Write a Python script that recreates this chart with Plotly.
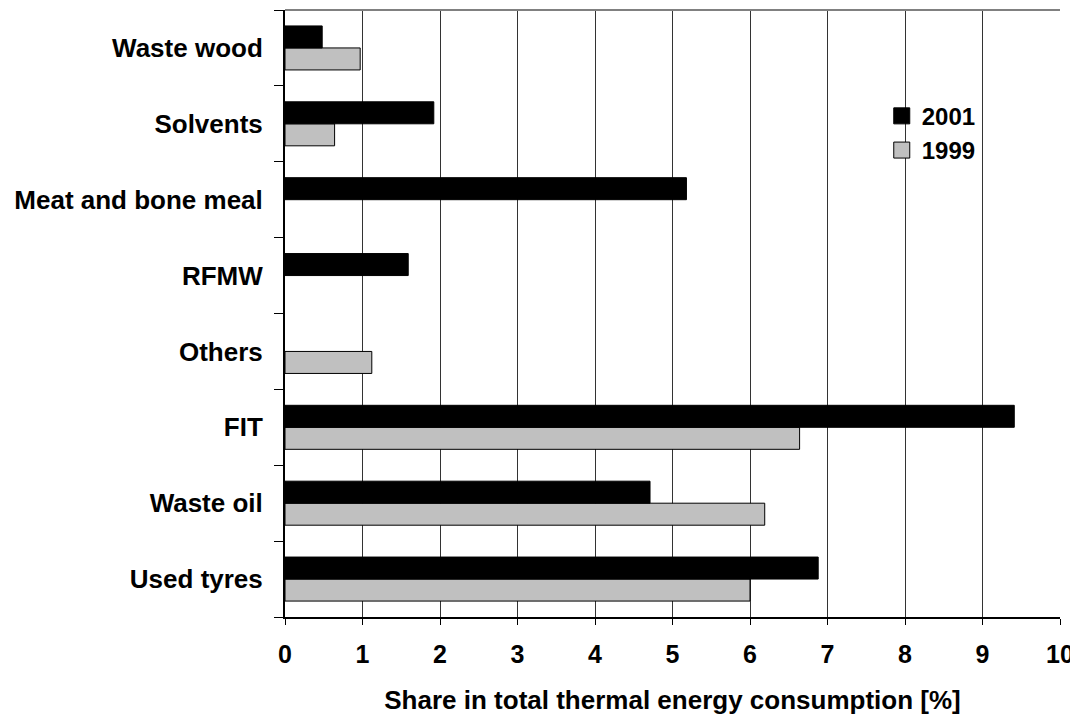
import plotly.graph_objects as go

FONT = 'Liberation Sans, Arial, sans-serif'

# bottom to top, as on the chart
categories = ['Used tyres', 'Waste oil', 'FIT', 'Others', 'RFMW',
              'Meat and bone meal', 'Solvents', 'Waste wood']
share_2001 = [6.88, 4.71, 9.41, None, 1.59, 5.18, 1.92, 0.48]
share_1999 = [6.0, 6.19, 6.64, 1.12, None, None, 0.64, 0.97]
x_ticks = list(range(0, 11))

fig = go.Figure()
# 1999 first so it sits below the 2001 bar in each group
fig.add_trace(go.Bar(
    y=categories, x=share_1999, orientation='h', name='1999',
    marker=dict(color='#c0c0c0', line=dict(color='#000000', width=1)),
    showlegend=False
))
fig.add_trace(go.Bar(
    y=categories, x=share_2001, orientation='h', name='2001',
    marker=dict(color='#000000', line=dict(color='#000000', width=1)),
    showlegend=False
))
# legend entries with bigger square swatches
for name, color in [('1999', '#c0c0c0'), ('2001', '#000000')]:
    fig.add_trace(go.Scatter(
        x=[None], y=[None], mode='markers', name=name,
        marker=dict(symbol='square', size=16, color=color,
                    line=dict(color='#000000', width=1))
    ))

# the page body adds an 8px margin, so the figure is 8px smaller each way
fig.update_layout(
    width=1070, height=707,
    margin=dict(l=277, r=18, t=2, b=98, autoexpand=False),
    paper_bgcolor='white',
    plot_bgcolor='white',
    barmode='group',
    bargap=0.42,
    bargroupgap=0,
    font=dict(family=FONT, size=25, color='#000000'),
    legend=dict(
        x=0.77, y=0.862, xanchor='left', yanchor='top',
        traceorder='reversed',
        font=dict(family=FONT, size=24, color='#000000', weight='bold'),
        bgcolor='rgba(0,0,0,0)',
        itemwidth=30,
        tracegroupgap=0
    ),
    shapes=[dict(type='line', xref='paper', yref='paper', x0=0, x1=1, y0=1, y1=1,
                 line=dict(color='#808080', width=2))]
)
fig.update_xaxes(
    range=[0, 10],
    tickvals=x_ticks,
    ticks='outside', ticklen=6, tickcolor='#000000',
    ticklabelstandoff=8,
    showgrid=True, gridcolor='#333333', gridwidth=1,
    showline=True, linecolor='#000000', linewidth=2,
    zeroline=False,
    tickfont=dict(family=FONT, size=25, weight='bold'),
    title=dict(text='Share in total thermal energy consumption [%]',
               font=dict(family=FONT, size=26, weight='bold'),
               standoff=26)
)
fig.update_yaxes(
    type='category',
    categoryorder='array', categoryarray=categories,
    tickson='boundaries',
    ticks='outside', ticklen=9, tickcolor='#000000',
    ticklabelstandoff=15,
    showgrid=False,
    showline=True, linecolor='#000000', linewidth=2,
    tickfont=dict(family=FONT, size=26, weight='bold')
)

fig.write_html('out.html')
